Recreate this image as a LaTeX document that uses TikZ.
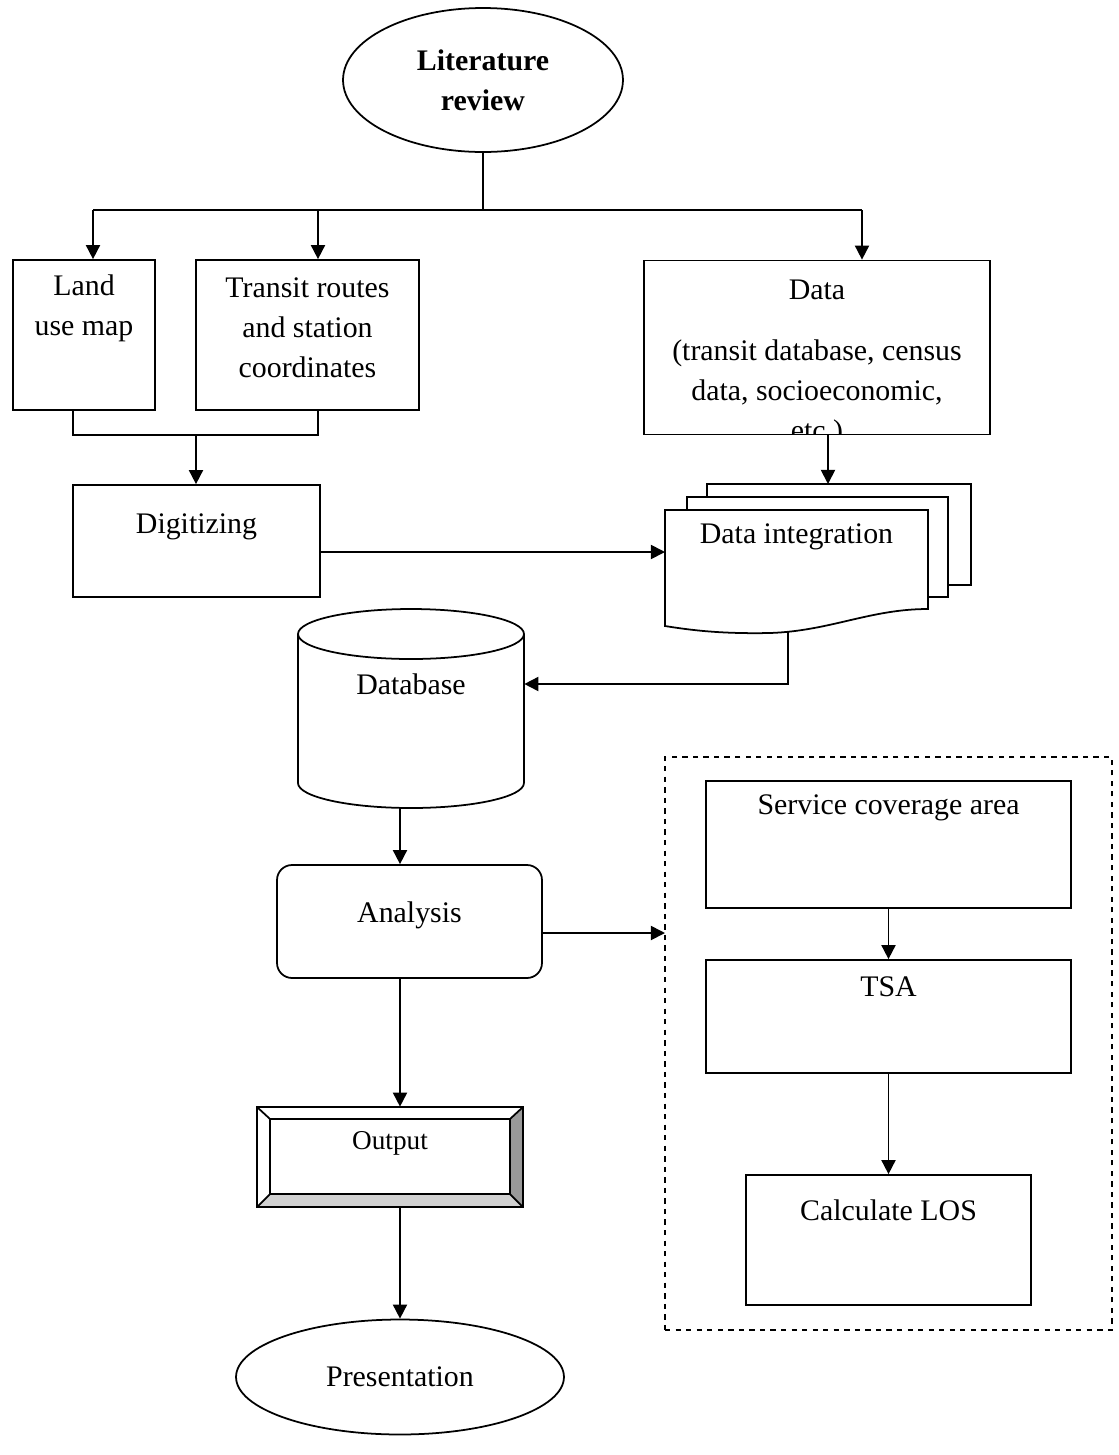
\documentclass[tikz,border=0pt]{standalone}
\usepackage{fontspec}
\setmainfont{Liberation Serif}
\usetikzlibrary{arrows.meta,positioning,calc,shapes.geometric}

\begin{document}
\begin{tikzpicture}[x=0.02cm, y=-0.02cm,
  every node/.style={font=\fontsize{17}{22.7}\selectfont},
  ln/.style={line width=1pt},
  box/.style={draw, line width=1pt, inner sep=0pt},
  ghost/.style={inner sep=0pt},
  txt/.style={align=center, inner sep=0pt},
  arr/.style={-{Triangle[length=8pt,width=8pt]}, line width=1pt}]
\useasboundingbox (0,0) rectangle (1119,1455);

% Literature review
\node[box, ellipse, txt, minimum width=5.6cm, minimum height=2.88cm,
  font=\fontsize{17}{22.7}\selectfont\bfseries] (lit) at (483,80) {Literature\\review};

% Inputs
\node[box, minimum width=2.84cm, minimum height=3cm] (land) at (84,335) {};
\node[txt] at (84,308) {Land\\use map};
\node[box, minimum width=4.46cm, minimum height=3cm] (transit) at (307.5,335) {};
\node[txt] at (307.5,328) {Transit routes\\and station\\coordinates};
\begin{scope}
  \clip (644,260) rectangle (990,434);
  \node[txt] at (817,290) {Data};
  \node[txt] at (817,393) {(transit database, census\\data, socioeconomic,\\etc.)};
\end{scope}
\node[box, minimum width=6.92cm, minimum height=3.48cm] (data) at (817,347.5) {};

% Split from literature review
\coordinate (split) at (483,210);
\coordinate (s1) at (93,210);
\coordinate (s2) at (318,210);
\coordinate (s3) at (862,210);
\draw[ln] (lit.south) -- (split);
\draw[ln] (s1) -- (s3);
\draw[arr] (s1) -- (s1 |- land.north);
\draw[arr] (s2) -- (s2 |- transit.north);
\draw[arr] (s3) -- (s3 |- data.north);

% Digitizing
\node[box, minimum width=4.94cm, minimum height=2.24cm] (dig) at (196.5,541) {};
\node[txt] at (196.5,527) {Digitizing};
\coordinate (j1) at (73,435);
\coordinate (j2) at (318,435);
\coordinate (j3) at (196,435);
\draw[ln] (j1 |- land.south) -- (j1) -- (j2) -- (j2 |- transit.south);
\draw[arr] (j3) -- (j3 |- dig.north);

% Data integration (document stack)
\filldraw[ln, fill=white] (707,484) rectangle (971,585);
\filldraw[ln, fill=white] (687,497) rectangle (948,597);
\filldraw[ln, fill=white] (665,510) -- (928,510) -- (928,609)
  .. controls (870,609) and (830,631) .. (770,633)
  .. controls (720,634) and (690,630) .. (665,626) -- cycle;
\node[ghost, minimum width=5.26cm, minimum height=2.32cm] (dint) at (796.5,568) {};
\node[txt] at (796.5,537) {Data integration};
\coordinate (dd) at (828,484);
\draw[arr] (dd |- data.south) -- (dd);
\coordinate (dl) at (665,552);
\draw[arr] (dig.east |- dl) -- (dl);

% Database
\node[ghost, minimum width=4.52cm, minimum height=3.98cm] (db) at (411,708.5) {};
\draw[ln] (411,634) ellipse [x radius=2.26cm, y radius=0.5cm];
\draw[ln] (298,634) -- (298,783)
  arc[start angle=180, end angle=360, x radius=2.26cm, y radius=0.5cm]
  -- (524,634);
\node[txt] at (411,684) {Database};
\coordinate (db0) at (788,632);
\coordinate (db1) at (788,684);
\draw[arr] (db0) -- (db1) -- (db.east |- db1);

% Analysis
\coordinate (col) at (400,0);
\node[box, rounded corners=0.3cm, minimum width=5.3cm, minimum height=2.26cm] (ana) at (409.5,921.5) {};
\node[txt] at (409.5,915) {Analysis};
\draw[arr] (col |- db.south) -- (col |- ana.north);

% LOS procedure
\node[box, dashed, minimum width=8.94cm, minimum height=11.46cm] (grp) at (888.5,1043.5) {};
\coordinate (a2) at (665,933);
\draw[arr] (ana.east |- a2) -- (a2);
\node[box, minimum width=7.3cm, minimum height=2.54cm] (svc) at (888.5,844.5) {};
\node[txt] at (888.5,808) {Service coverage area};
\node[box, minimum width=7.3cm, minimum height=2.26cm] (tsa) at (888.5,1016.5) {};
\node[txt] at (888.5,987) {TSA};
\node[box, minimum width=5.7cm, minimum height=2.6cm] (los) at (888.5,1240) {};
\node[txt] at (888.5,1210) {Calculate LOS};
\draw[arr] (svc.south) -- (tsa.north);
\draw[arr] (tsa.south) -- (los.north);

% Output (bevelled frame)
\node[ghost, minimum width=5.32cm, minimum height=2cm] (out) at (390,1157) {};
\fill[black!40] (523,1107) -- (523,1207) -- (510,1194) -- (510,1119) -- cycle;
\fill[black!18] (257,1207) -- (523,1207) -- (510,1194) -- (270,1194) -- cycle;
\draw[ln] (257,1107) rectangle (523,1207);
\draw[ln] (270,1119) rectangle (510,1194);
\draw[ln] (257,1107) -- (270,1119) (523,1107) -- (510,1119)
  (257,1207) -- (270,1194) (523,1207) -- (510,1194);
\node[txt, font=\fontsize{15.5}{19}\selectfont] at (390,1143) {Output};
\draw[arr] (col |- ana.south) -- (col |- out.north);

% Presentation
\node[box, ellipse, minimum width=6.56cm, minimum height=2.3cm] (pres) at (400,1377) {Presentation};
\draw[arr] (col |- out.south) -- (pres.north);
\end{tikzpicture}
\end{document}
